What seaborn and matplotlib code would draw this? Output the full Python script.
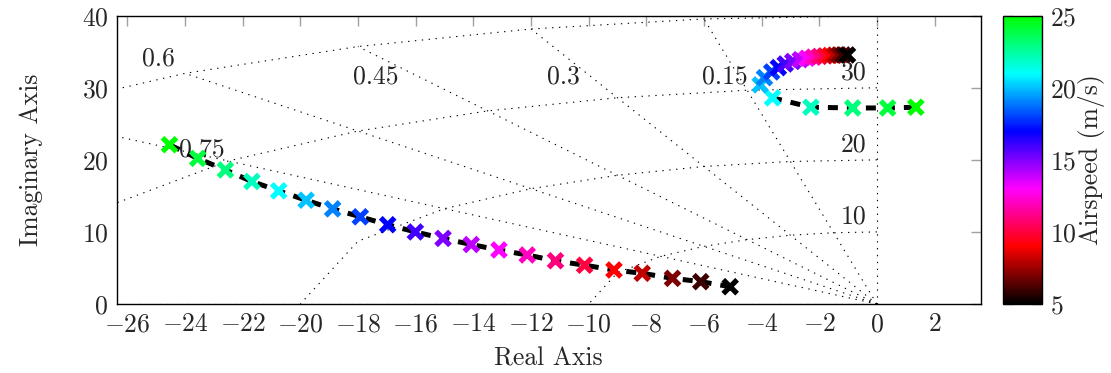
import numpy as np
import pandas as pd
import matplotlib
matplotlib.use('Agg')
import matplotlib.pyplot as plt
from matplotlib.colors import LinearSegmentedColormap, Normalize
from matplotlib.cm import ScalarMappable
import seaborn as sns

# --- data: poles vs airspeed ---
airspeed = list(range(5, 26))

# fast branch (lower), airspeed 5 -> 25
low_re = [-5.09, -6.11, -7.09, -8.14, -9.12, -10.14, -11.15, -12.13, -13.11, -14.07,
          -15.05, -16.01, -16.97, -17.92, -18.88, -19.80, -20.75, -21.68, -22.60, -23.56, -24.54]
low_im = [2.4, 3.1, 3.56, 4.26, 4.72, 5.38, 6.0, 6.8, 7.5, 8.25,
          9.1, 10.0, 11.0, 12.1, 13.2, 14.4, 15.7, 17.0, 18.6, 20.2, 22.1]

# slow branch (upper), airspeed 5 -> 25
up_re = [-1.02, -1.17, -1.32, -1.47, -1.63, -1.80, -1.99, -2.20, -2.42, -2.66,
         -2.92, -3.18, -3.42, -3.65, -3.90, -4.05, -3.62, -2.29, -0.84, 0.37, 1.35]
up_im = [34.55, 34.56, 34.55, 34.52, 34.48, 34.42, 34.35, 34.25, 34.1, 33.9,
         33.65, 33.3, 32.8, 32.2, 31.4, 30.4, 28.6, 27.3, 27.2, 27.2, 27.3]

# s-plane grid
zeta_lines = [0, 0.15, 0.3, 0.45, 0.6, 0.75, 1.0]
zeta_nodes = [0, 0.15, 0.3, 0.45, 0.6, 0.75, 0.9, 1.0]
wn_arcs = [10, 20, 30, 40]
zeta_labels = ['0.6', '0.45', '0.3', '0.15', '0.75']
zeta_label_pos = [(-24.92, 33.1), (-17.39, 30.65), (-10.88, 30.65), (-5.27, 30.65), (-23.42, 20.4)]
wn_labels = ['10', '20', '30']
wn_label_pos = [(-0.82, 11.2), (-0.82, 21.15), (-0.82, 31.1)]

xticks = list(range(-26, 3, 2))
yticks = [0, 10, 20, 30, 40]
cbar_ticks = [5, 10, 15, 20, 25]

# --- style ---
sns.set_style('white')
plt.rcParams['font.family'] = ['cmr10', 'DejaVu Sans']
plt.rcParams['mathtext.fontset'] = 'cm'
plt.rcParams['axes.formatter.use_mathtext'] = True
plt.rcParams['font.size'] = 18.5

cmap = LinearSegmentedColormap.from_list(
    'airspeed', ['black', 'red', 'magenta', 'blue', 'cyan', 'lime'])
norm = Normalize(5, 25)

fig = plt.figure(figsize=(11.11, 3.73), dpi=100)
ax = fig.add_axes([116.7 / 1111, 69 / 373, (980.7 - 116.7) / 1111, 288.3 / 373])
cax = fig.add_axes([1003.3 / 1111, 69 / 373, 38.4 / 1111, 288.3 / 373])

# grid: damping lines and natural frequency arcs
dot = dict(color='black', lw=0.8, linestyle=(0, (1.2, 5)), zorder=1)
rmax = max(wn_arcs)
for z in zeta_lines:
    ax.plot([0, -rmax * z], [0, rmax * np.sqrt(1 - z ** 2)], **dot)
zn = np.array(zeta_nodes)
for w in wn_arcs:
    ax.plot(-w * zn, w * np.sqrt(1 - zn ** 2), **dot)

for lab, (x, y) in zip(zeta_labels, zeta_label_pos):
    ax.text(x, y, lab, ha='center', va='baseline', zorder=2)
for lab, (x, y) in zip(wn_labels, wn_label_pos):
    ax.text(x, y, lab, ha='center', va='baseline', zorder=2)

# dashed locus lines
for re, im in [(low_re, low_im), (up_re, up_im)]:
    sns.lineplot(x=re, y=im, sort=False, estimator=None, color='black', lw=3.6,
                 linestyle=(0, (2.0, 1.8)), zorder=3, ax=ax)

# pole markers coloured by airspeed
df = pd.DataFrame({'re': low_re + up_re, 'im': low_im + up_im, 'v': airspeed * 2})
df = df.sort_values('v', ascending=False, kind='stable')
sns.scatterplot(data=df, x='re', y='im', hue='v', palette=cmap, hue_norm=(5, 25),
                marker='x', s=100, linewidth=3.8, legend=False, zorder=4, ax=ax)

ax.set_xlim(-26.37, 3.6)
ax.set_ylim(0, 40)
ax.set_xticks(xticks)
ax.set_yticks(yticks)
ax.set_xlabel('Real Axis', labelpad=8)
ax.set_ylabel('Imaginary Axis', labelpad=28)
ax.tick_params(direction='in', length=7, width=1, color='#a0a0a0',
               top=True, right=True, pad=6)
for s in ax.spines.values():
    s.set_color('black')
    s.set_linewidth(1)

cb = fig.colorbar(ScalarMappable(norm=norm, cmap=cmap), cax=cax)
cb.set_ticks(cbar_ticks)
cb.outline.set_edgecolor('black')
cb.outline.set_linewidth(1)
cax.tick_params(direction='in', length=7, width=1, color='#a0a0a0',
                left=True, right=True, pad=6)
cb.set_label('Airspeed (m/s)', labelpad=1)

fig.savefig('out.png', dpi=100)
